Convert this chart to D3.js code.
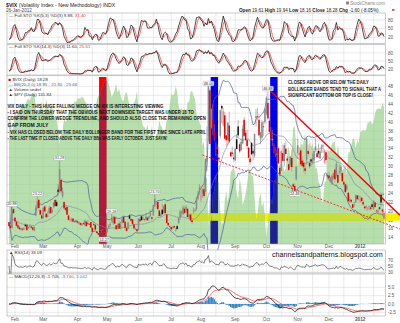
<!DOCTYPE html>
<html><head><meta charset="utf-8">
<script src="https://cdn.jsdelivr.net/npm/d3@7"></script>
<style>body{margin:0;background:#fff}svg{display:block;font-family:"Liberation Sans",Arial,sans-serif}</style>
</head><body><svg id="c" width="400" height="323"></svg>
<script>
// ---------- DATA ----------
const startDate = "2011-01-26", endDate = "2012-01-26";
const holidays = ["2011-02-21","2011-04-22","2011-05-30","2011-07-04","2011-09-05","2011-11-24","2011-12-26","2012-01-02","2012-01-16"];
const monthLabels = ["Feb","Mar","Apr","May","Jun","Jul","Aug","Sep","Oct","Nov","Dec","2012"];
const mainTicks = [14,16,18,20,22,24,26,28,30,32,34,36,38,40,42,44,46,48];
const stoTicks = [20,50,80];
const rsiTicks = [30,50,70];
const macdTicks = [-2.5,0,2.5,5];

const vixOpen = [17.5,16.7,16.2,20.4,
 18.5,17.6,16.8,16.3,15.8,16.0,15.8,16.9,16.9,16.1,16.6,16.5,16.3,15.6,19.0,20.8,22.5,20.2,19.0,
 18.4,21.0,19.4,18.7,19.5,20.9,19.8,20.9,22.5,22.0,24.8,24.5,27.0,23.3,22.0,20.7,20.9,19.0,17.9,17.9,18.3,17.5,17.8,
 17.7,17.4,17.3,16.8,17.2,16.9,17.6,17.2,17.0,17.5,16.2,17.0,16.9,15.4,15.0,15.5,15.6,15.6,15.1,14.7,
 15.3,16.3,16.8,17.9,17.3,18.7,16.8,16.2,17.2,16.0,17.3,18.7,17.6,16.2,16.0,19.0,18.2,18.1,17.0,16.0,15.9,
 15.7,18.1,18.8,18.1,18.2,18.2,18.5,18.3,19.0,18.6,19.0,21.2,21.4,22.0,20.1,18.9,20.3,19.6,21.5,19.2,17.3,16.6,
 16.4,16.2,16.6,15.5,16.6,17.3,18.6,19.5,19.3,20.5,20.1,20.5,18.6,19.2,17.9,20.1,20.1,20.4,22.8,24.8,
 22.5,24.0,24.9,24.3,31.1,36.8,47.1,38.7,40.7,37.8,34.4,33.8,32.0,36.9,43.6,39.3,41.5,37.0,36.0,39.2,33.2,33.1,32.0,
 31.4,36.1,39.0,35.0,33.7,35.2,40.5,37.6,36.0,34.2,31.8,35.3,33.5,32.5,40.9,41.3,40.5,36.3,36.5,39.0,40.0,
 41.9,44.3,40.3,37.8,35.9,34.9,33.6,32.6,34.1,29.7,29.0,33.0,31.2,34.0,31.8,30.5,30.4,31.9,26.0,25.6,27.1,
 33.0,32.9,33.6,31.3,30.8,29.6,31.5,33.5,30.8,31.6,31.1,31.5,33.7,33.0,33.5,31.8,34.0,34.5,30.9,33.2,28.0,
 28.0,26.6,26.2,27.4,29.3,27.8,28.1,28.7,29.0,28.5,26.5,26.0,24.8,24.1,22.3,22.5,21.5,21.8,22.0,23.5,23.4,
 22.0,23.0,22.0,21.0,20.8,20.4,21.0,20.8,21.5,20.5,21.9,20.1,19.8,20.8,23.6,20.3,19.61];
const vixHigh = [17.6,16.9,20.88,20.6,
 18.6,17.8,17.5,16.7,16.3,16.2,16.4,17.2,17.0,16.5,16.9,16.7,16.5,16.5,21.3,23.22,22.7,20.3,19.3,
 20.9,21.3,19.5,19.9,21.2,21.0,20.6,22.0,22.6,22.5,26.0,31.28,27.3,25.3,22.2,21.2,21.0,19.3,18.4,18.5,18.4,17.9,18.0,
 18.0,17.6,17.5,17.3,17.6,18.0,17.7,18.0,17.3,17.6,16.4,17.8,17.0,15.5,15.1,15.8,15.8,15.9,15.3,15.0,
 16.2,17.0,17.6,19.28,18.9,18.8,16.9,17.2,17.9,17.6,18.6,19.1,17.7,16.3,17.6,19.3,18.4,18.3,17.2,16.2,16.0,
 18.4,18.7,19.0,18.9,18.3,19.4,18.7,19.0,20.3,18.8,21.4,23.70,22.1,22.4,20.3,19.6,21.6,21.2,21.8,19.3,17.4,16.8,
 16.5,16.6,16.8,16.1,16.9,18.6,20.3,20.1,21.3,21.0,21.3,20.6,19.3,19.6,18.1,20.8,20.6,23.2,24.6,26.0,
 25.6,25.1,26.2,31.9,39.0,48.00,47.5,43.0,44.0,39.5,35.6,35.0,34.4,42.8,43.9,43.2,42.3,37.0,40.0,42.3,33.5,34.5,33.1,
 34.2,37.3,40.4,35.4,36.3,39.3,41.1,38.1,38.3,34.4,32.5,35.5,34.0,37.4,42.9,43.2,41.8,37.5,40.4,40.2,43.1,
 45.8,46.88,41.1,38.9,38.2,35.2,34.3,33.9,34.5,30.0,33.6,34.9,35.3,35.7,32.3,30.7,32.4,33.8,26.3,26.2,30.0,
 36.2,34.4,34.1,32.3,31.5,30.4,36.5,35.0,31.0,31.8,32.9,34.1,36.4,34.1,35.1,34.2,35.0,35.0,33.9,33.7,28.4,
 28.8,27.7,28.1,28.6,29.6,31.1,28.6,30.3,30.3,28.9,26.9,26.3,26.0,24.2,23.2,22.7,21.6,22.0,23.7,23.6,23.5,
 23.4,23.1,22.4,21.2,21.3,20.9,21.2,21.2,21.9,22.4,22.0,20.3,20.4,21.0,24.2,20.6,19.94];
const vixLow = [16.5,15.8,16.1,19.3,
 17.5,16.6,16.0,15.7,15.6,15.5,15.7,16.4,15.6,16.0,16.3,16.0,15.6,15.4,18.9,20.6,20.2,19.0,18.1,
 18.2,19.7,18.4,18.5,19.3,19.3,19.4,20.6,20.9,20.9,23.4,24.1,23.9,22.9,20.4,19.9,19.1,17.9,17.5,17.6,17.5,17.3,17.4,
 17.2,17.0,16.7,16.6,16.9,16.6,16.5,17.0,16.7,16.2,15.2,16.7,15.7,15.0,14.6,15.2,15.0,15.0,14.27,14.5,
 15.0,16.0,16.4,17.4,16.8,17.1,15.8,15.9,16.0,15.9,17.0,17.3,16.1,15.5,15.9,18.2,17.6,16.9,16.0,15.8,15.4,
 15.6,17.5,17.8,17.9,17.6,17.9,17.8,18.1,18.7,17.9,18.9,20.9,20.5,20.3,18.8,18.6,19.1,19.4,19.4,17.2,16.6,16.3,
 15.7,15.9,16.1,15.3,15.8,17.1,18.0,18.7,19.1,19.4,19.6,18.6,18.2,17.6,17.1,19.4,19.8,20.1,22.4,23.6,
 22.0,23.0,23.1,24.2,29.0,35.6,35.0,38.4,37.0,35.8,32.4,32.0,30.8,36.3,39.8,38.9,36.1,34.5,34.8,35.3,32.2,32.2,30.9,
 31.2,33.9,36.5,33.0,33.5,35.0,36.7,35.7,34.0,31.8,30.4,32.5,31.4,32.1,39.0,40.4,36.8,35.0,35.9,36.8,39.5,
 41.5,40.5,37.2,35.9,34.6,32.9,32.1,31.2,30.5,27.9,28.9,31.1,30.1,32.4,30.9,29.0,29.9,28.9,24.9,24.48,26.9,
 31.7,31.6,30.1,30.0,28.7,28.2,30.4,32.2,29.6,30.1,30.5,31.1,33.2,31.9,31.9,31.7,33.0,33.1,30.6,30.5,27.2,
 26.9,26.4,25.8,27.1,26.4,27.5,26.1,28.3,28.0,26.5,25.5,24.0,24.4,22.0,21.8,21.8,20.7,21.0,21.8,22.4,22.4,
 21.8,22.0,21.2,20.3,20.3,20.0,20.2,20.1,20.4,20.3,20.8,19.5,19.5,20.2,21.0,19.2,18.16];
const vixClose = [16.64,16.15,20.04,19.53,
 17.63,16.69,16.25,15.93,16.18,15.81,16.10,16.61,15.69,16.37,16.72,16.23,15.78,16.43,20.80,22.13,20.66,19.22,18.35,
 20.66,19.91,18.60,19.06,20.66,19.52,20.22,21.88,21.13,21.13,24.32,29.40,24.41,24.44,20.61,20.25,19.17,18.00,17.91,18.16,17.59,17.74,17.74,
 17.40,17.28,16.90,17.10,17.11,17.87,16.59,17.11,16.89,16.27,15.32,16.96,15.83,15.07,14.69,15.43,15.62,15.13,14.62,14.75,
 15.99,16.70,17.08,18.20,18.40,17.16,15.91,16.95,16.03,17.07,18.24,17.42,16.23,15.52,17.43,18.27,17.82,17.07,16.09,15.98,15.45,
 18.30,17.68,17.95,18.49,18.07,18.79,17.90,18.86,19.61,18.26,21.32,22.73,21.85,20.42,18.86,19.29,19.29,21.10,19.52,17.27,16.80,16.52,
 15.87,16.34,16.28,15.95,15.95,18.39,19.87,19.91,20.80,19.53,20.95,18.65,19.21,17.89,17.52,20.23,20.23,22.98,23.74,25.25,
 23.66,24.79,23.38,31.66,32.00,48.00,35.06,42.99,39.00,36.36,32.85,32.89,31.58,42.67,43.05,42.44,36.27,35.90,39.76,35.59,32.28,32.89,31.62,
 33.92,33.92,37.00,33.38,35.54,38.52,36.91,35.93,34.60,31.97,30.98,32.73,32.94,37.32,41.35,41.25,37.00,37.71,39.97,38.84,42.96,
 45.45,40.82,37.81,36.27,36.20,33.04,32.86,32.86,30.70,28.24,33.39,31.26,34.78,32.82,31.32,29.26,32.22,29.86,25.46,24.53,29.96,
 34.77,32.74,30.50,30.16,29.85,29.00,36.16,32.81,30.04,31.13,32.00,33.51,34.51,32.13,32.91,33.39,34.47,34.77,33.59,31.45,27.80,
 27.41,27.52,27.86,28.48,27.13,30.59,26.38,28.99,29.89,26.66,25.97,24.29,25.67,22.22,22.65,22.10,20.73,21.91,23.52,22.66,23.40,
 22.97,22.22,21.48,20.63,21.07,20.69,21.05,20.47,20.91,22.20,20.89,20.00,20.10,20.50,21.90,19.88,18.28];
const spyClose = [129.66,129.95,127.63,128.61,
 130.76,130.40,130.71,131.09,131.91,132.46,132.09,132.19,132.92,133.23,132.80,133.63,134.04,134.30,131.54,130.74,130.61,131.99,132.72,
 130.63,130.84,133.09,132.12,131.01,132.18,132.00,129.51,130.43,129.64,128.19,125.69,127.37,127.92,129.84,129.38,129.75,130.97,131.38,131.02,131.94,132.83,132.58,
 133.24,133.29,133.26,133.55,133.35,132.82,132.45,131.42,131.44,131.45,131.97,130.51,131.26,133.04,133.74,133.53,134.72,135.57,136.05,136.36,
 136.12,135.66,134.73,133.51,134.02,134.63,135.72,134.21,134.87,133.78,132.95,132.89,134.07,134.36,133.33,131.74,131.63,132.05,132.57,133.11,134.52,
 131.46,131.29,130.02,128.62,128.49,127.96,128.90,127.10,127.18,128.79,126.54,126.76,127.15,127.84,129.55,128.71,128.35,126.85,128.01,129.67,130.76,132.06,
 133.97,133.79,133.92,135.32,134.38,131.95,131.36,131.77,130.89,131.61,130.54,132.67,132.58,134.38,134.50,133.74,133.19,130.49,130.07,129.23,
 128.69,125.41,126.03,120.01,119.94,111.95,117.25,112.08,117.26,117.88,120.45,119.28,119.39,114.07,112.35,112.38,116.24,117.76,115.93,117.68,121.01,121.29,121.89,
 120.44,117.40,116.52,119.86,118.59,115.42,116.23,117.29,118.87,120.91,121.60,120.41,120.21,116.68,112.96,113.64,116.30,117.54,115.11,116.04,113.14,
 109.92,112.40,114.40,116.50,115.55,119.49,119.55,120.73,120.37,122.46,120.09,122.54,120.99,121.54,123.83,125.42,122.91,124.20,128.46,128.51,125.33,
 121.83,123.79,126.12,125.32,126.11,127.59,122.91,123.97,126.39,125.18,125.78,123.69,121.61,121.57,119.30,118.80,116.18,115.87,119.26,119.52,124.70,
 124.46,124.43,125.71,125.85,126.10,123.44,125.52,123.65,122.57,121.18,121.58,121.97,120.54,124.13,124.37,125.40,126.53,126.54,124.96,126.30,125.76,
 127.71,127.73,128.11,127.78,128.07,129.21,129.25,129.55,128.91,129.37,130.80,131.45,131.54,131.60,131.47,132.61,131.84];

// price labels on the main panel: [date, value, "h" above high / "l" below low]
const priceLabels = [["2011-01-28",20.88,"h"],["2011-02-23",23.22,"h"],["2011-03-16",31.28,"h"],["2011-04-28",14.27,"l"],
 ["2011-05-05",19.28,"h"],["2011-06-16",23.70,"h"],["2011-08-08",48.00,"h"],["2011-10-04",46.88,"h"],["2011-10-28",24.48,"l"]];
// hand-drawn annotations
const redBars = ["2011-04-27"], blueBars = ["2011-08-12","2011-10-10"];
const targetZone = [17.8, 19.5], targetZoneStart = "2011-07-21";
const upperWedge = [["2011-10-06",46.88],["2012-01-26",22.5]];
const lowerWedge = [["2011-08-02",32.6],["2012-01-26",17.3]];

const noteLeft = ["VIX DAILY - THIS HUGE FALLING WEDGE ON VIX IS INTERESTING VIEWING",
 "- I SAID ON THURSDAY THAT THE OBVIOUS NEXT DOWNSIDE TARGET WAS UNDER 18 TO",
 "CONFIRM THE LOWER WEDGE TRENDLINE, AND SHOULD ALSO CLOSE THE REMAINING OPEN",
 "GAP FROM JULY",
 "- VIX HAS CLOSED BELOW THE DAILY BOLLINGER BAND FOR THE FIRST TIME SINCE LATE APRIL",
 "- THE LAST TIME IT CLOSED ABOVE THE DAILY BBs WAS EARLY OCTOBER. JUST SAYIN'"];
const noteRight = ["CLOSES ABOVE OR BELOW THE DAILY","BOLLINGER BANDS TEND TO SIGNAL THAT A","SIGNIFICANT BOTTOM OR TOP IS CLOSE!"];

// ---------- BUILD ----------
const svg = d3.select("#c");
const hol = new Set(holidays);
const dates = [];
for (let t = Date.parse(startDate+"T00:00:00Z"); t <= Date.parse(endDate+"T00:00:00Z"); t += 864e5) {
  const d = new Date(t), wd = d.getUTCDay(), s = d.toISOString().slice(0,10);
  if (wd>0 && wd<6 && !hol.has(s)) dates.push(s);
}
const N = dates.length;
const idx = s => dates.indexOf(s);
const PL = 7, PR = 385.5;
const x = d3.scaleLinear().domain([0, N-1]).range([9, 384]);

const P1 = {t:13,b:43.5}, P2 = {t:44.5,b:75}, PM = {t:75.5,b:244}, PR_ = {t:250,b:273}, PD = {t:274,b:316};
const yS1 = d3.scaleLinear().domain([0,100]).range([43,14.3]);
const yS2 = d3.scaleLinear().domain([0,100]).range([74.5,47.5]);
const yM = d3.scaleLinear().domain([20,48]).range([211,86.4]);
const ySpy = d3.scaleLinear().domain([109.92,136.36]).range([238,80]);
const yR = d3.scaleLinear().domain([0,100]).range([281,251]);
const yD = d3.scaleLinear().domain([0,5]).range([304,287.4]);

const monthIdx = [], midIdx = [];
for (let i=1;i<N;i++){ if(dates[i].slice(5,7)!==dates[i-1].slice(5,7)) monthIdx.push(i);
  if(+dates[i].slice(8,10)>=15 && +dates[i-1].slice(8,10)<15) midIdx.push(i); }

// indicators computed from the price arrays
const sma = (a,n)=>a.map((_,i)=>d3.mean(a.slice(Math.max(0,i-n+1),i+1)));
const ema = (a,n)=>{const k=2/(n+1);let e=a[0];return a.map(v=>e=v*k+e*(1-k));};
const mid = sma(vixClose,20);
const sd = vixClose.map((_,i)=>d3.deviation(vixClose.slice(Math.max(0,i-19),i+1))||0);
const bbU = mid.map((m,i)=>m+2*sd[i]), bbL = mid.map((m,i)=>m-2*sd[i]);
function stoch(n){
  const fk = vixClose.map((c,i)=>{const lo=d3.min(vixLow.slice(Math.max(0,i-n+1),i+1)),hi=d3.max(vixHigh.slice(Math.max(0,i-n+1),i+1));return hi>lo?(c-lo)/(hi-lo)*100:50;});
  const k = sma(fk,3); return [k, sma(k,3)];
}
const [k5,d5] = stoch(5), [k14,d14] = stoch(14);
const rsi = (()=>{let ag=0,al=0;return vixClose.map((c,i)=>{if(i===0)return 50;const ch=c-vixClose[i-1];
  const g=Math.max(ch,0),l=Math.max(-ch,0);const n=Math.min(i,14);ag=(ag*(n-1)+g)/n;al=(al*(n-1)+l)/n;return al===0?100:100-100/(1+ag/al);});})();
const e12=ema(vixClose,12), e26=ema(vixClose,26);
const macd=e12.map((v,i)=>v-e26[i]), sig=ema(macd,9), hist=macd.map((v,i)=>v-sig[i]);

const GRID="#dcdcdc", AX="#555";
function panel(p, yScale, ticks, fmt){
  const g = svg.append("g");
  g.append("rect").attr("x",PL).attr("y",p.t).attr("width",PR-PL).attr("height",p.b-p.t).attr("fill","#fff");
  g.selectAll(".v").data(monthIdx.concat(midIdx)).join("line").attr("x1",i=>x(i)).attr("x2",i=>x(i))
    .attr("y1",p.t).attr("y2",p.b).attr("stroke",GRID).attr("stroke-width",0.6);
  g.selectAll(".h").data(ticks).join("line").attr("x1",PL).attr("x2",PR).attr("y1",d=>yScale(d)).attr("y2",d=>yScale(d))
    .attr("stroke",GRID).attr("stroke-width",0.6);
  g.selectAll(".t").data(ticks).join("text").attr("x",388).attr("y",d=>yScale(d)+1.6).text(fmt||(d=>d))
    .attr("font-size",4.6).attr("fill",AX);
  return g;
}
function border(p){ svg.append("rect").attr("x",PL).attr("y",p.t).attr("width",PR-PL).attr("height",p.b-p.t)
  .attr("fill","none").attr("stroke","#a8a8a8").attr("stroke-width",0.6); }
const line = (ys, arr) => d3.line().x((_,i)=>x(i)).y((_,i)=>ys(arr[i]));
function squeezed(s, x0, y0, w, fs, opts={}){
  const g = svg.append("g");
  const t = g.append("text").attr("font-size",fs).attr("fill",opts.fill||"#111").attr("font-weight",opts.bold?"bold":null).text(s);
  const nat = t.node().getComputedTextLength();
  g.attr("transform",`translate(${x0},${y0}) scale(${w/nat},1)`);
}

// header
svg.append("text").attr("x",6).attr("y",6.5).attr("font-size",5.2).attr("fill","#222")
  .html('<tspan font-weight="bold">$VIX</tspan> (Volatility Index - New Methodology) INDX');
svg.append("text").attr("x",6).attr("y",12).attr("font-size",4.6).attr("fill","#444").text("26-Jan-2012");
svg.append("rect").attr("x",346).attr("y",1.5).attr("width",3).attr("height",3).attr("fill","#888");
svg.append("text").attr("x",350).attr("y",4.6).attr("font-size",4.6).attr("fill","#888").text("StockCharts.com");
svg.append("text").attr("x",239).attr("y",11.5).attr("font-size",4.6).attr("fill","#222")
  .html('<tspan font-weight="bold">Open</tspan> 19.61 <tspan font-weight="bold">High</tspan> 19.94 <tspan font-weight="bold">Low</tspan> 18.16 <tspan font-weight="bold">Close</tspan> 18.28 <tspan font-weight="bold">Chg</tspan> -1.60 (-8.05%)');
svg.append("rect").attr("x",392).attr("y",9.3).attr("width",2.5).attr("height",1.3).attr("fill","#d00");

// stochastic panels
[[P1,yS1,k5,d5,"Full STO %K(5,3) %D(3) 9.88, ","31.40"],[P2,yS2,k14,d14,"Full STO %K(14,3) %D(3) 11.60, ","25.61"]].forEach(([p,ys,k,d,lab,lab2])=>{
  panel(p,ys,stoTicks);
  svg.append("path").attr("d",line(ys,d)(d)).attr("fill","none").attr("stroke","#ff5a5a").attr("stroke-width",0.9);
  svg.append("path").attr("d",line(ys,k)(k)).attr("fill","none").attr("stroke","#111").attr("stroke-width",0.75);
  border(p);
  svg.append("text").attr("x",9).attr("y",p.t+3.8).attr("font-size",4.4).attr("fill","#333")
    .html(`— ${lab}<tspan fill="#e33">${lab2}</tspan>`);
});

// main panel
panel(PM,yM,mainTicks);
const hw = 3.7;
const barRects = (g, list, col) => g.selectAll(null).data(list).join("rect").attr("x",d=>x(idx(d))-hw).attr("width",2*hw)
  .attr("y",PM.t+1.5).attr("height",PM.b-PM.t-1.5).attr("fill",col);
const zoneY0 = yM(targetZone[1]), zoneH = yM(targetZone[0])-yM(targetZone[1]), zoneX = x(idx(targetZoneStart));
barRects(svg.append("g"), redBars, "#ff0000");
barRects(svg.append("g"), blueBars, "#0000ee");
svg.append("rect").attr("x",zoneX).attr("width",400-zoneX).attr("y",zoneY0).attr("height",zoneH).attr("fill","#f2f200");
const spyArea = d3.area().x((_,i)=>x(i)).y0(PM.b).y1((_,i)=>ySpy(spyClose[i]))(spyClose);
svg.append("path").attr("d",spyArea).attr("fill","#8fcb7e").attr("fill-opacity",0.64);
svg.append("clipPath").attr("id","spyclip").append("path").attr("d",spyArea);
const under = svg.append("g").attr("clip-path","url(#spyclip)");
barRects(under, redBars, "#b4183a");
barRects(under, blueBars, "#1d2290");
under.append("rect").attr("x",zoneX).attr("width",400-zoneX).attr("y",zoneY0).attr("height",zoneH).attr("fill","#c8dc3c");
// bollinger bands
svg.append("path").attr("d",line(yM,bbU)(bbU)).attr("fill","none").attr("stroke","#4c5b9c").attr("stroke-width",0.7);
svg.append("path").attr("d",line(yM,bbL)(bbL)).attr("fill","none").attr("stroke","#4c5b9c").attr("stroke-width",0.7);
svg.append("path").attr("d",line(yM,mid)(mid)).attr("fill","none").attr("stroke","#7c83a6").attr("stroke-width",0.6);
// candles
const cg = svg.append("g");
vixClose.forEach((c,i)=>{
  const o=vixOpen[i], up = i===0 ? c>=o : c>=vixClose[i-1];
  let col = up ? "#111" : "#e00000";
  let fill = c<o ? col : (up ? "#8a8a8a" : "#f08a8a");
  if (i===N-1){ fill="#d060d0"; }
  cg.append("line").attr("x1",x(i)).attr("x2",x(i)).attr("y1",yM(vixHigh[i])).attr("y2",yM(vixLow[i])).attr("stroke",up?"#777":"#e66").attr("stroke-width",0.55);
  const y0=yM(Math.max(o,c)), y1=yM(Math.min(o,c));
  cg.append("rect").attr("x",x(i)-0.75).attr("width",1.5).attr("y",y0).attr("height",Math.max(0.6,y1-y0)).attr("fill",fill);
});
// wedge lines
const wl = (pts)=>{const [a,b]=pts; const xa=x(idx(a[0])), xb=x(idx(b[0])), ya=yM(a[1]), yb=yM(b[1]); const s=(yb-ya)/(xb-xa); return [xa,ya,400,ya+s*(400-xa)];};
const uw = wl(upperWedge), lw = wl(lowerWedge);
svg.append("line").attr("x1",uw[0]).attr("y1",uw[1]).attr("x2",uw[2]).attr("y2",uw[3]).attr("stroke","#f00000").attr("stroke-width",1.4);
svg.append("line").attr("x1",lw[0]).attr("y1",lw[1]).attr("x2",lw[2]).attr("y2",lw[3]).attr("stroke","#f02020").attr("stroke-width",0.9).attr("stroke-dasharray","2,1.5");
// price labels
priceLabels.forEach(([d,v,t])=>{
  const cx=x(idx(d)), txt=v.toFixed(2), w=11, h=4.6;
  const yy = t==="h" ? yM(v)-h-0.6 : yM(v)+0.6;
  svg.append("rect").attr("x",cx-w/2).attr("y",yy).attr("width",w).attr("height",h).attr("fill","#fff").attr("stroke","#999").attr("stroke-width",0.4).attr("rx",0.8);
  svg.append("text").attr("x",cx).attr("y",yy+3.5).attr("text-anchor","middle").attr("font-size",3.8).attr("fill","#333").text(txt);
});
border(PM);
// main legend
svg.append("text").attr("x",8.5).attr("y",81).attr("font-size",4.4).attr("fill","#333").html('<tspan fill="#c00">■</tspan> $VIX (Daily) 18.28');
svg.append("text").attr("x",8.5).attr("y",86).attr("font-size",4.4).attr("fill","#4c5b9c").text("— BB(20,2.0) 18.95 - 21.30 - 23.66");
svg.append("text").attr("x",8.5).attr("y",91).attr("font-size",4.4).attr("fill","#333").text("▲ Volume undef");
svg.append("text").attr("x",8.5).attr("y",96).attr("font-size",4.4).attr("fill","#333").text("▲ SPY (Daily) 131.84");
// notes
const ltl=[156,186,198,41,199,160], lty=[107.5,113.7,120,126.8,133.5,140];
noteLeft.forEach((s,i)=>squeezed(s,7.5,lty[i],ltl[i],5.6,{bold:true}));
const rtl=[81,93,85], rty=[83.5,90.8,97];
noteRight.forEach((s,i)=>squeezed(s,288,rty[i],rtl[i],5.6,{bold:true}));
// x labels (centred on the month gridlines)
const xl = (yy)=>svg.selectAll(null).data(monthIdx).join("text").attr("x",i=>x(i)).attr("y",yy).attr("text-anchor","middle")
  .attr("font-size",4.6).attr("fill",AX).attr("font-weight",(_,j)=>j===11?"bold":null).text((_,j)=>monthLabels[j]);
xl(248.4);

// RSI
panel(PR_,yR,rsiTicks);
svg.append("path").attr("d",line(yR,rsi)(rsi)).attr("fill","none").attr("stroke","#333").attr("stroke-width",0.6);
border(PR_);
svg.append("text").attr("x",9).attr("y",PR_.t+4).attr("font-size",4.4).attr("fill","#333").text("▲ RSI(14) 33.09");
squeezed("channelsandpatterns.blogspot.com",272,256.5,111,8,{fill:"#111"});

// MACD
panel(PD,yD,macdTicks,d=>d.toFixed(1));
svg.append("g").selectAll("rect").data(hist).join("rect").attr("x",(_,i)=>x(i)-0.75).attr("width",1.5)
  .attr("y",d=>Math.min(yD(d),yD(0))).attr("height",d=>Math.abs(yD(d)-yD(0))).attr("fill","#3a86c6");
svg.append("path").attr("d",line(yD,sig)(sig)).attr("fill","none").attr("stroke","#ff6060").attr("stroke-width",0.9);
svg.append("path").attr("d",line(yD,macd)(macd)).attr("fill","none").attr("stroke","#111").attr("stroke-width",0.75);
border(PD);
svg.append("text").attr("x",9).attr("y",PD.t+4).attr("font-size",4.4).attr("fill","#333")
  .html('— MACD(12,26,9) -1.705, <tspan fill="#e33">-3.740</tspan>, <tspan fill="#3a86c6">2.042</tspan>');
xl(320.5);
if (N!==vixClose.length||N!==vixOpen.length||N!==vixHigh.length||N!==vixLow.length||N!==spyClose.length)
  svg.append("text").attr("x",100).attr("y",160).attr("fill","red").text(`len ${N} ${vixOpen.length} ${vixHigh.length} ${vixLow.length} ${vixClose.length} ${spyClose.length}`);
</script></body></html>
